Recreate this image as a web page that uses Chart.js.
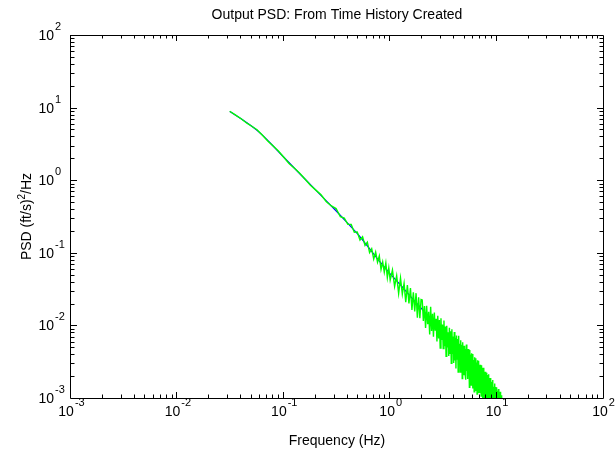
<!DOCTYPE html>
<html>
<head>
<meta charset="utf-8">
<title>Output PSD</title>
<script src="https://cdn.jsdelivr.net/npm/chart.js@4.4.1/dist/chart.umd.min.js"></script>
<style>
  html, body { margin: 0; padding: 0; background: #fff; }
  #wrap { width: 616px; height: 454px; position: relative; }
</style>
</head>
<body>
<div id="wrap"><canvas id="psdChart"></canvas></div>
<script>
const FONT = '"Liberation Sans", Arial, Helvetica, sans-serif';

const titleText = 'Output PSD: From Time History Created';
const xLabel = 'Frequency (Hz)';
const yLabelParts = ['PSD (ft/s)', '2', '/Hz'];

// tick labels are 10^e for each of these
const decadeExponents = [-3, -2, -1, 0, 1, 2];

// smoothed PSD (blue)
const smoothFreq = [0.0311, 0.035, 0.04, 0.045, 0.05, 0.056, 0.063, 0.071, 0.079, 0.089,
    0.1, 0.126, 0.158, 0.2, 0.251, 0.316, 0.398, 0.501, 0.631, 0.794,
    1.0, 1.26, 1.58, 2.0, 2.51, 3.16, 3.98, 5.01, 6.31, 7.94,
    10.0, 12.6];
const smoothPsd = [8.85, 7.9, 6.97, 6.19, 5.54, 4.87, 4.17, 3.51, 2.98, 2.48,
    2.07, 1.46, 1.04, 0.73, 0.52, 0.368, 0.257, 0.178, 0.117, 0.0759,
    0.0513, 0.0355, 0.0243, 0.0166, 0.01135, 0.00794, 0.00547, 0.00375, 0.00241, 0.00156,
    0.00101, 0.00065];

// PSD from the time history (green)
const rawFreq = [
    0.031, 0.035, 0.04, 0.045, 0.05, 0.056, 0.063, 0.071, 0.079, 0.089,
    0.1, 0.112, 0.126, 0.141, 0.158, 0.178, 0.2, 0.224, 0.25,
    0.28, 0.31, 0.34, 0.37, 0.40, 0.43, 0.46, 0.49, 0.52, 0.55,
    0.58, 0.61, 0.64, 0.67, 0.70, 0.73, 0.76, 0.79, 0.82, 0.85,
    0.88, 0.91, 0.94, 0.97, 1.00, 1.05, 1.10, 1.15, 1.20, 1.25,
    1.30, 1.35, 1.40, 1.45, 1.50, 1.55, 1.60, 1.65, 1.70, 1.75,
    1.80, 1.85, 1.90, 1.95,
    2.00, 2.05, 2.10, 2.15, 2.20, 2.25, 2.30, 2.35, 2.40, 2.45,
    2.50, 2.55, 2.60, 2.65, 2.70, 2.75, 2.80, 2.85, 2.90, 2.95,
    3.00, 3.05, 3.10, 3.15, 3.20, 3.25, 3.30, 3.35, 3.40, 3.45,
    3.50, 3.55, 3.60, 3.65, 3.70, 3.75, 3.80, 3.85, 3.90, 3.95,
    4.00, 4.05, 4.10, 4.15, 4.20, 4.25, 4.30, 4.35, 4.40, 4.45,
    4.50, 4.55, 4.60, 4.65, 4.70, 4.75, 4.80, 4.85, 4.90, 4.95,
    5.00, 5.05, 5.10, 5.15, 5.20, 5.25, 5.30, 5.35, 5.40, 5.45,
    5.50, 5.55, 5.60, 5.65, 5.70, 5.75, 5.80, 5.85, 5.90, 5.95,
    6.00, 6.05, 6.10, 6.15, 6.20, 6.25, 6.30, 6.35, 6.40, 6.45,
    6.50, 6.55, 6.60, 6.65, 6.70, 6.75, 6.80, 6.85, 6.90, 6.95,
    7.00, 7.05, 7.10, 7.15, 7.20, 7.25, 7.30, 7.35, 7.40, 7.45,
    7.50, 7.55, 7.60, 7.65, 7.70, 7.75, 7.80, 7.85, 7.90, 7.95,
    8.00, 8.05, 8.10, 8.15, 8.20, 8.25, 8.30, 8.35, 8.40, 8.45,
    8.50, 8.55, 8.60, 8.65, 8.70, 8.75, 8.80, 8.85, 8.90, 8.95,
    9.0, 9.1, 9.2, 9.3, 9.4, 9.5, 9.6, 9.7, 9.8, 9.9,
    10.0, 10.1, 10.2, 10.3, 10.4, 10.5, 10.6, 10.7, 10.8, 10.9,
    11.0, 11.1, 11.2, 11.3, 11.4, 11.5
];
const rawPsd = [
    8.9, 7.93, 6.97, 6.1, 5.54, 4.95, 4.17, 3.45, 2.98, 2.52,
    2.07, 1.7, 1.46, 1.25, 1.04, 0.85, 0.73, 0.63, 0.51,
    0.442, 0.407, 0.314, 0.301, 0.247, 0.246, 0.192, 0.194, 0.15, 0.166,
    0.126, 0.14, 0.1008, 0.1134, 0.0821, 0.1025, 0.0742, 0.0904, 0.0589, 0.0746,
    0.0542, 0.0724, 0.0456, 0.0621, 0.0421, 0.0578, 0.0344, 0.0483, 0.0276, 0.0449,
    0.027, 0.0379, 0.0209, 0.036, 0.02, 0.0328, 0.0163, 0.0285, 0.0156, 0.0278,
    0.0128, 0.0244, 0.0126, 0.0227,
    0.0224, 0.01153, 0.01853, 0.00924, 0.01867, 0.0104, 0.01536, 0.00748, 0.018, 0.0084,
    0.01446, 0.00697, 0.01506, 0.00848, 0.01235, 0.006, 0.01358, 0.00659, 0.0119, 0.00488,
    0.0125, 0.00631, 0.01025, 0.0048, 0.0117, 0.00517, 0.00963, 0.00376, 0.00987, 0.00495,
    0.00804, 0.0038, 0.00931, 0.00414, 0.0083, 0.00301, 0.00884, 0.00403, 0.00705, 0.00304,
    0.0081, 0.00329, 0.00676, 0.00255, 0.00725, 0.00344, 0.00651, 0.00227, 0.00719, 0.003,
    0.00558, 0.00228, 0.00625, 0.00305, 0.00542, 0.00185, 0.00584, 0.00253, 0.00525, 0.0021,
    0.00526, 0.00222, 0.00472, 0.00179, 0.00544, 0.00235, 0.00424, 0.00183, 0.00474, 0.00231,
    0.00379, 0.0014, 0.00458, 0.00195, 0.00398, 0.00151, 0.00413, 0.00196, 0.00352, 0.00135,
    0.00404, 0.00162, 0.00335, 0.00122, 0.00364, 0.00173, 0.00304, 0.00125, 0.00354, 0.00148,
    0.00309, 0.00113, 0.0033, 0.0015, 0.00281, 0.00117, 0.00326, 0.00128, 0.00255, 0.00117,
    0.00287, 0.00118, 0.00251, 0.00106, 0.00282, 0.00123, 0.00236, 0.000996, 0.0026, 0.0011,
    0.00236, 0.001, 0.0026, 0.00108, 0.00208, 0.000902, 0.0023, 0.000992, 0.00205, 0.000858,
    0.00223, 0.000973, 0.00196, 0.00082, 0.00207, 0.000905, 0.00184, 0.00071, 0.00212, 0.000834,
    0.00179, 0.000748, 0.00189, 0.000825, 0.00165, 0.00065, 0.00188, 0.000762, 0.00164, 0.000688,
    0.00167, 0.000605, 0.00177, 0.000638, 0.00143, 0.000466, 0.00158, 0.000642, 0.00142, 0.000494,
    0.00141, 0.000554, 0.00126, 0.000432, 0.00133, 0.000552, 0.00117, 0.000445, 0.00122, 0.000473,
    0.00109, 0.000382, 0.00109, 0.00044, 0.000988, 0.000385
];

function toPoints(xs, ys) {
    return xs.map((x, i) => ({ x: x, y: ys[i] }));
}

// "10" with a raised exponent
function drawPower(ctx, exp, x, baseY, align) {
    const base = '10';
    const sup = String(exp);
    ctx.font = '14px ' + FONT;
    const wBase = ctx.measureText(base).width;
    ctx.font = '11px ' + FONT;
    const wSup = ctx.measureText(sup).width;
    let left;
    if (align === 'center') left = x - (wBase + wSup) / 2;
    else left = x - wBase; // base right edge at x
    ctx.textAlign = 'left';
    ctx.textBaseline = 'alphabetic';
    ctx.font = '14px ' + FONT;
    ctx.fillText(base, left, baseY);
    ctx.font = '11px ' + FONT;
    ctx.fillText(sup, left + wBase + 1, baseY - 10);
}

const matlabAxes = {
    id: 'matlabAxes',
    afterDraw(chart) {
        const { ctx, chartArea: a } = chart;
        const xs = chart.scales.x;
        const ys = chart.scales.y;
        ctx.save();
        ctx.strokeStyle = '#000';
        ctx.fillStyle = '#000';
        ctx.lineWidth = 1;

        // box
        ctx.beginPath();
        ctx.rect(a.left - 0.5, a.top + 0.5, a.right - a.left + 1, a.bottom - a.top);
        ctx.stroke();

        // inward ticks on all four sides
        ctx.beginPath();
        const first = decadeExponents[0];
        const last = decadeExponents[decadeExponents.length - 1];
        for (let e = first; e < last; e++) {
            for (let m = 1; m < 10; m++) {
                const v = m * Math.pow(10, e);
                const len = m === 1 ? 6 : 3.5;
                const px = Math.round(xs.getPixelForValue(v)) - 0.5;
                ctx.moveTo(px, a.bottom); ctx.lineTo(px, a.bottom - len);
                ctx.moveTo(px, a.top); ctx.lineTo(px, a.top + len);
                const py = Math.round(ys.getPixelForValue(v)) + 0.5;
                ctx.moveTo(a.left, py); ctx.lineTo(a.left + len, py);
                ctx.moveTo(a.right, py); ctx.lineTo(a.right - len, py);
            }
        }
        ctx.stroke();

        // tick labels
        decadeExponents.forEach((e) => {
            const v = Math.pow(10, e);
            drawPower(ctx, e, xs.getPixelForValue(v), a.bottom + 18, 'center');
            drawPower(ctx, e, a.left - 17, ys.getPixelForValue(v) + 5, 'right');
        });

        // title and axis labels
        ctx.font = '14px ' + FONT;
        ctx.textAlign = 'center';
        ctx.textBaseline = 'middle';
        const cx = (a.left + a.right) / 2;
        ctx.fillText(titleText, cx, 15);
        ctx.fillText(xLabel, cx, 441);

        // y label with superscript 2
        ctx.translate(27, (a.top + a.bottom) / 2);
        ctx.rotate(-Math.PI / 2);
        ctx.textBaseline = 'middle';
        ctx.textAlign = 'left';
        ctx.font = '14px ' + FONT;
        const w0 = ctx.measureText(yLabelParts[0]).width;
        const w2 = ctx.measureText(yLabelParts[2]).width;
        ctx.font = '10px ' + FONT;
        const w1 = ctx.measureText(yLabelParts[1]).width;
        let tx = -(w0 + w1 + w2) / 2;
        ctx.font = '14px ' + FONT;
        ctx.fillText(yLabelParts[0], tx, 0);
        tx += w0;
        ctx.font = '10px ' + FONT;
        ctx.fillText(yLabelParts[1], tx, -5);
        tx += w1;
        ctx.font = '14px ' + FONT;
        ctx.fillText(yLabelParts[2], tx, 0);
        ctx.restore();
    }
};

new Chart(document.getElementById('psdChart'), {
    type: 'line',
    data: {
        datasets: [
            {
                label: 'From time history',
                data: toPoints(rawFreq, rawPsd),
                borderColor: '#00ff00',
                borderWidth: 1.4,
                pointRadius: 0,
                tension: 0
            },
            {
                label: 'Smoothed',
                data: toPoints(smoothFreq, smoothPsd),
                borderColor: '#0000ff',
                borderWidth: 1.2,
                pointRadius: 0,
                tension: 0
            }
        ]
    },
    options: {
        responsive: true,
        maintainAspectRatio: false,
        animation: false,
        layout: { padding: { left: 71, top: 35, right: 13, bottom: 56 } },
        scales: {
            x: { type: 'logarithmic', min: 1e-3, max: 1e2, display: false },
            y: { type: 'logarithmic', min: 1e-3, max: 1e2, display: false }
        },
        plugins: {
            legend: { display: false },
            tooltip: { enabled: false }
        }
    },
    plugins: [matlabAxes]
});
</script>
</body>
</html>
